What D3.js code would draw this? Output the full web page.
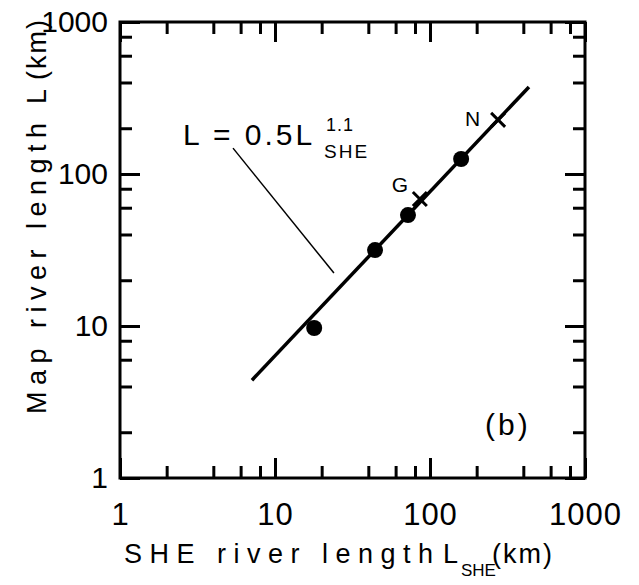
<!DOCTYPE html>
<html>
<head>
<meta charset="utf-8">
<script src="https://cdn.jsdelivr.net/npm/d3@7"></script>
<style>
  body { margin: 0; background: #fff; }
  text { font-family: "Liberation Sans", Arial, sans-serif; fill: #000; }
</style>
</head>
<body>
<script>
// values (log-log, km)
var circlePts = [
  { x: 17.9, y: 9.7 },
  { x: 44.2, y: 31.6 },
  { x: 72.1, y: 53.7 },
  { x: 158.8, y: 125.5 }
];
var crossPts = [
  { x: 86, y: 68.5, label: "G" },
  { x: 275, y: 227, label: "N" }
];
// fitted line L = 0.5 L_SHE^1.1, ends as drawn
var fitLine = [ { x: 7.1, y: 4.4 }, { x: 435, y: 374 } ];
// leader from equation to the line
var leader = [ { x: 5.36, y: 148 }, { x: 24, y: 22.3 } ];

var majorTicks = [1, 10, 100, 1000];
var minorTicks = [2, 4, 6, 8, 20, 40, 60, 80, 200, 400, 600, 800];

var W = 639, H = 585;
var mLeft = 120, mRight = 585, mTop = 22, mBottom = 478;

// where each cross label sits relative to its mark
var labelShift = { G: [-28, -7], N: [-33, 6] };

var svg = d3.select("body").append("svg").attr("width", W).attr("height", H);

var x = d3.scaleLog().domain([1, 1000]).range([mLeft, mRight]);
var y = d3.scaleLog().domain([1, 1000]).range([mBottom, mTop]);

function styleAxis(g) {
  g.select(".domain").remove();
  g.selectAll(".tick line").attr("stroke", "#000").attr("stroke-width", 3);
}

// minor ticks (inward), all four sides
svg.append("g").attr("transform", "translate(0," + mBottom + ")")
  .call(d3.axisBottom(x).tickValues(minorTicks).tickSize(-12).tickFormat("")).call(styleAxis);
svg.append("g").attr("transform", "translate(0," + mTop + ")")
  .call(d3.axisTop(x).tickValues(minorTicks).tickSize(-12).tickFormat("")).call(styleAxis);
svg.append("g").attr("transform", "translate(" + mLeft + ",0)")
  .call(d3.axisLeft(y).tickValues(minorTicks).tickSize(-12).tickFormat("")).call(styleAxis);
svg.append("g").attr("transform", "translate(" + mRight + ",0)")
  .call(d3.axisRight(y).tickValues(minorTicks).tickSize(-12).tickFormat("")).call(styleAxis);

// major ticks with labels
var xb = svg.append("g").attr("transform", "translate(0," + mBottom + ")")
  .call(d3.axisBottom(x).tickValues(majorTicks).tickSize(-20).tickPadding(25).tickFormat(d3.format("d")))
  .call(styleAxis);
var yl = svg.append("g").attr("transform", "translate(" + mLeft + ",0)")
  .call(d3.axisLeft(y).tickValues(majorTicks).tickSize(-20).tickPadding(12).tickFormat(d3.format("d")))
  .call(styleAxis);
svg.append("g").attr("transform", "translate(0," + mTop + ")")
  .call(d3.axisTop(x).tickValues(majorTicks).tickSize(-20).tickFormat("")).call(styleAxis);
svg.append("g").attr("transform", "translate(" + mRight + ",0)")
  .call(d3.axisRight(y).tickValues(majorTicks).tickSize(-20).tickFormat("")).call(styleAxis);

[xb, yl].forEach(function (g) {
  g.selectAll("text")
    .style("font-family", "'Liberation Sans Narrow', 'Liberation Sans', Arial, sans-serif")
    .style("font-size", "31px").style("letter-spacing", "1px").attr("fill", "#000");
});
yl.selectAll("text").style("font-size", "30px").style("letter-spacing", "0px");

// frame
svg.append("rect")
  .attr("x", mLeft).attr("y", mTop)
  .attr("width", mRight - mLeft).attr("height", mBottom - mTop)
  .attr("fill", "none").attr("stroke", "#000").attr("stroke-width", 3);

var line = d3.line().x(function (d) { return x(d.x); }).y(function (d) { return y(d.y); });

svg.append("path").datum(fitLine).attr("d", line)
  .attr("fill", "none").attr("stroke", "#000").attr("stroke-width", 3.5);

svg.append("path").datum(leader).attr("d", line)
  .attr("fill", "none").attr("stroke", "#000").attr("stroke-width", 1.5);

svg.selectAll("circle.pt").data(circlePts).enter().append("circle")
  .attr("class", "pt")
  .attr("cx", function (d) { return x(d.x); })
  .attr("cy", function (d) { return y(d.y); })
  .attr("r", 8).attr("fill", "#000");

var cs = 7;
var crosses = svg.selectAll("g.cross").data(crossPts).enter().append("g")
  .attr("class", "cross")
  .attr("transform", function (d) { return "translate(" + x(d.x) + "," + y(d.y) + ")"; });
crosses.append("path")
  .attr("d", "M" + (-cs) + "," + (-cs) + "L" + cs + "," + cs + "M" + (-cs) + "," + cs + "L" + cs + "," + (-cs))
  .attr("stroke", "#000").attr("stroke-width", 3);
crosses.append("text")
  .attr("x", function (d) { return labelShift[d.label][0]; })
  .attr("y", function (d) { return labelShift[d.label][1]; })
  .style("font-size", "21px")
  .text(function (d) { return d.label; });

// equation
svg.append("text").attr("x", 183).attr("y", 145)
  .style("font-size", "30px").style("letter-spacing", "3px").text("L = 0.5L");
svg.append("text").attr("x", 326).attr("y", 131)
  .style("font-size", "18px").style("letter-spacing", "1px").text("1.1");
svg.append("text").attr("x", 324).attr("y", 158)
  .style("font-size", "19px").style("letter-spacing", "2px").text("SHE");

// panel tag
svg.append("text").attr("x", 485).attr("y", 435)
  .style("font-size", "30px").style("letter-spacing", "3px").text("(b)");

// x title
svg.append("text").attr("x", 124).attr("y", 563)
  .style("font-size", "27px").style("letter-spacing", "7.5px").text("SHE river length");
svg.append("text").attr("x", 443).attr("y", 563)
  .style("font-size", "27px").text("L");
svg.append("text").attr("x", 461).attr("y", 576)
  .style("font-size", "17px").text("SHE");
svg.append("text").attr("x", 492).attr("y", 563)
  .style("font-size", "27px").style("letter-spacing", "2px").text("(km)");

// y title
var yt = svg.append("g").attr("transform", "translate(46,414) rotate(-90)");
yt.append("text").attr("x", 0).attr("y", 0)
  .style("font-size", "27px").style("letter-spacing", "6.5px").text("Map river length");
yt.append("text").attr("x", 310).attr("y", 0)
  .style("font-size", "27px").text("L");
yt.append("text").attr("x", 334).attr("y", 0)
  .style("font-size", "27px").style("letter-spacing", "2px").text("(km)");
</script>
</body>
</html>
